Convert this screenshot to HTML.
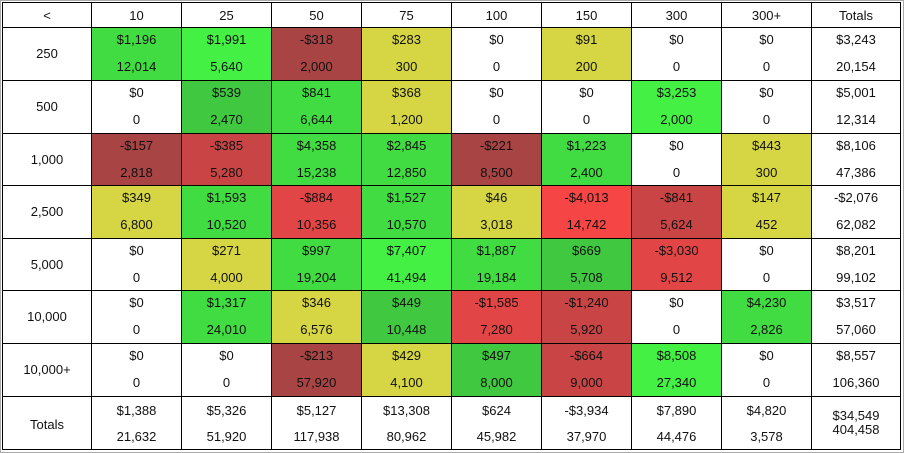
<!DOCTYPE html>
<html><head><meta charset="utf-8">
<style>
body{margin:0;width:904px;height:453px;background:#fff;overflow:hidden;font-family:"Liberation Sans",Arial,sans-serif;font-size:13px;color:#111}
#frame{position:absolute;left:0;top:0;width:902px;height:451px;border:1px solid #aaa}
.cell{position:absolute;box-sizing:border-box;border-right:1px solid #000;border-bottom:1px solid #000;text-align:center}
.t{position:absolute;left:0;right:0;line-height:15px}
</style></head><body>
<div id="frame"></div>
<div id="grid"></div>
<script>
const colLabels=["10","25","50","75","100","150","300","300+"];
const rowLabels=["250","500","1,000","2,500","5,000","10,000","10,000+"];
const profits=[
["$1,196","$1,991","-$318","$283","$0","$91","$0","$0","$3,243"],
["$0","$539","$841","$368","$0","$0","$3,253","$0","$5,001"],
["-$157","-$385","$4,358","$2,845","-$221","$1,223","$0","$443","$8,106"],
["$349","$1,593","-$884","$1,527","$46","-$4,013","-$841","$147","-$2,076"],
["$0","$271","$997","$7,407","$1,887","$669","-$3,030","$0","$8,201"],
["$0","$1,317","$346","$449","-$1,585","-$1,240","$0","$4,230","$3,517"],
["$0","$0","-$213","$429","$497","-$664","$8,508","$0","$8,557"]];
const counts=[
["12,014","5,640","2,000","300","0","200","0","0","20,154"],
["0","2,470","6,644","1,200","0","0","2,000","0","12,314"],
["2,818","5,280","15,238","12,850","8,500","2,400","0","300","47,386"],
["6,800","10,520","10,356","10,570","3,018","14,742","5,624","452","62,082"],
["0","4,000","19,204","41,494","19,184","5,708","9,512","0","99,102"],
["0","24,010","6,576","10,448","7,280","5,920","0","2,826","57,060"],
["0","0","57,920","4,100","8,000","9,000","27,340","0","106,360"]];
const colorClass=[
["g2","g3","r1","y","w","y","w","w"],
["w","g1","g2","y","w","w","g3","w"],
["r1","r2","g2","g2","r1","g2","w","y"],
["y","g2","r3","g2","y","r4","r2","y"],
["w","y","g2","g3","g2","g1","r3","w"],
["w","g2","y","g1","r3","r2","w","g2"],
["w","w","r1","y","g1","r2","g3","w"]];
const totalProfits=["$1,388","$5,326","$5,127","$13,308","$624","-$3,934","$7,890","$4,820","$34,549"];
const totalCounts=["21,632","51,920","117,938","80,962","45,982","37,970","44,476","3,578","404,458"];
const palette={w:"#ffffff",y:"#d6d644",g1:"#41c841",g2:"#41dc41",g3:"#44f044",r1:"#a94444",r2:"#c94545",r3:"#e24545",r4:"#f54545"};
const xs=[3,92,182,272,362,452,542,632,722,812,901];
const ys=[3,28,81,134,186,239,291,344,397,450];
const g=document.getElementById('grid');
function cell(c,r,bg,lines,name){
  const d=document.createElement('div');d.className='cell';
  
  
  let x=xs[c]-1,y=ys[r]-1,w=xs[c+1]-xs[c]+1,h=ys[r+1]-ys[r]+1;
  if(c===0){d.style.borderLeft='1px solid #000';}else{x+=1;w-=1;}
  if(r===0){d.style.borderTop='1px solid #000';}else{y+=1;h-=1;}
  d.style.left=x+'px';d.style.top=y+'px';
  d.style.width=w+'px';d.style.height=h+'px';
  d.style.background=bg;
  lines.forEach(([txt,ty])=>{const s=document.createElement('div');s.className='t';s.style.top=ty+'px';s.textContent=txt;d.appendChild(s);});
  g.appendChild(d);
}
cell(0,0,'#fff',[['<',5]],'corner-header');
colLabels.forEach((l,i)=>cell(i+1,0,'#fff',[[l,5]],'column-header'));
cell(9,0,'#fff',[['Totals',5]],'totals-header');
rowLabels.forEach((l,r)=>{
  cell(0,r+1,'#fff',[[l,18]],'row-header');
  for(let c=0;c<9;c++){
    const bg=c<8?palette[colorClass[r][c]]:'#fff';
    cell(c+1,r+1,bg,[[profits[r][c],4],[counts[r][c],31]],c<8?'heatmap-cell':'row-total-cell');
  }
});
cell(0,8,'#fff',[['Totals',20]],'totals-row-header');
for(let c=0;c<9;c++){
  if(c<8)cell(c+1,8,'#fff',[[totalProfits[c],6],[totalCounts[c],32]],'column-total-cell');
  else cell(c+1,8,'#fff',[[totalProfits[c],11],[totalCounts[c],25]],'grand-total-cell');
}
</script>
</body></html>
